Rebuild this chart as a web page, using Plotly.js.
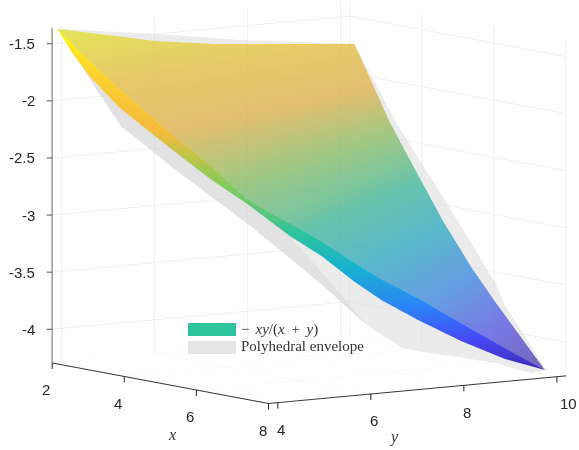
<!DOCTYPE html>
<html><head><meta charset="utf-8"><script src="https://cdn.plot.ly/plotly-3.0.1.min.js"></script>
<style>html,body{margin:0;padding:0;background:#fff}#g{width:579px;height:450px}</style></head><body><div id="g"></div>
<script>
// main face of the surface: first row = outer rim, second row = fold line
const rimX=[2.01,2.01,2.01,2.14,2.451,2.815,3.09,3.508,3.742,3.817,4.186,4.582,4.953,5.383,6.013,6.688,7.422];
const rimY=[3.9,5.996,7.275,10.19,10.19,10.19,10.19,10.19,10.19,10.19,10.19,10.19,10.19,10.19,10.19,10.19,10.19];
const rimZ=[-1.373,-1.558,-1.633,-1.734,-1.935,-2.167,-2.344,-2.57,-2.693,-2.733,-2.925,-3.134,-3.304,-3.499,-3.751,-4.003,-4.278];
const foldX=[2.01,2.42,2.89,3.72,4.54,5.45,6.27,7.29,7.98,7.98,7.98,7.98,7.98,7.98,7.98,7.98,7.98];
const foldY=[3.9,3.9,3.9,3.9,3.9,3.9,3.9,3.9,3.9,4.269,4.973,5.655,6.252,7.041,7.958,8.896,9.749];
const foldZ=[-1.373,-1.479,-1.599,-1.792,-1.969,-2.159,-2.318,-2.553,-2.641,-2.733,-2.925,-3.134,-3.304,-3.499,-3.751,-4.003,-4.227];
const edgeZ=[-1.373,-1.557,-1.729,-1.957,-2.117,-2.289,-2.439,-2.596,-2.719,-2.846,-3.055,-3.298,-3.486,-3.69,-3.907,-4.099,-4.227];
// polyhedral envelope outline
const envX=[2.01,2.667,3.41,3.77,4.79,6.99,7.8,7.8,7.8,7.8,7.8,7.8,7.7,7,6.5,6.2,5.2,3.5,2.14,2.01,2.01,2.01,5];
const envY=[3.93,4.2,4.2,4.2,4.2,4.2,4.425,5.128,6.066,6.834,8.838,9.606,9.998,10.16,10.06,10.08,10.06,10.04,10.19,7.85,6,4.44,6.8];
const envZ=[-1.373,-1.857,-2.16,-2.226,-2.426,-2.817,-3.063,-3.325,-3.708,-3.937,-4.143,-4.259,-4.255,-4.05,-3.772,-3.591,-3.111,-2.344,-1.734,-1.62,-1.497,-1.403,-2.8];
const fanI=[22,22,22,22,22,22,22,22,22,22,22,22,22,22,22,22,22,22,22,22,22,22];
const fanJ=[0,1,2,3,4,5,6,7,8,9,10,11,12,13,14,15,16,17,18,19,20,21];
const fanK=[1,2,3,4,5,6,7,8,9,10,11,12,13,14,15,16,17,18,19,20,21,0];
const bandX=[2.01,2.667,3.41,3.77,4.79,6.99,7.8,7.8,7.8,2.667,3.41,3.77,4.79,6.99,7.8,7.8];
const bandY=[3.93,4.2,4.2,4.2,4.2,4.2,4.425,5.128,6.066,4.2,4.2,4.2,4.2,4.2,4.425,5.128];
const bandZ=[-1.373,-1.857,-2.16,-2.226,-2.426,-2.817,-3.063,-3.325,-3.708,-1.753,-1.969,-2.035,-2.235,-2.626,-2.872,-3.221];
const bandI=[0,1,1,2,2,3,3,4,4,5,5,6,6,7];
const bandJ=[1,2,10,3,11,4,12,5,13,6,14,7,15,8];
const bandK=[9,10,9,11,10,12,11,13,12,14,13,15,14,15];
const parula=[[0,'#3e26a8'],[0.13,'#4748f5'],[0.25,'#2c86f7'],[0.38,'#17b1cf'],[0.5,'#2ec49e'],[0.63,'#8ccb5a'],[0.75,'#f4bb3c'],[0.88,'#fdd02f'],[1,'#f9fb15']];
const xTicks=[2,4,6,8];
const yTicks=[4,6,8,10];
const zTicks=[-4,-3.5,-3,-2.5,-2,-1.5];
const zText=['-4','-3.5','-3','-2.5','-2','-1.5'];
const xRange=[2,8], yRange=[3.8,10.2], zRange=[-4.295,-1.36];
const C=[-0.0392,-0.0794,-0.1022];
const k=2;
const e=[0.811,-0.571,0.132];
const ax=(r,tv)=>({title:{text:''},range:r,tickmode:'array',tickvals:tv,showticklabels:false,ticks:'',showgrid:true,gridcolor:'#e2e2e2',gridwidth:1,showline:true,linecolor:'#333',linewidth:2,zeroline:false,showbackground:false,showspikes:false});
const tickFont={family:'Liberation Sans',size:15,color:'#262626'};
const label=(x,y,z,text,xshift,yshift,xanchor,font)=>({x,y,z,text,xshift,yshift,xanchor:xanchor||'center',yanchor:'middle',showarrow:false,font:font||tickFont});
const mark=(x,y,z,ax,ay,c)=>({x,y,z,text:'\u00a0',font:{size:1},showarrow:true,ax,ay,arrowhead:0,arrowwidth:1,arrowcolor:c,standoff:0,startstandoff:0});
const titleFont={family:'Liberation Serif',size:16,color:'#333'};
const sceneNotes=[
...xTicks.map(t=>label(t,yRange[0],zRange[0],String(t),-6,-27)),
...yTicks.map(t=>label(xRange[1],t,zRange[0],String(t),t===10?12:3,-27)),
...zTicks.map((t,i)=>label(xRange[0],yRange[0],t,zText[i],-15,0,'right')),
label(5,yRange[0],zRange[0],'<i>x</i>',12,-51,'center',titleFont),
label(xRange[1],7,zRange[0],'<i>y</i>',-23,-47,'center',titleFont),
...xTicks.map(t=>mark(t,yRange[0],zRange[0],0,8,'#222')),
...yTicks.map(t=>mark(xRange[1],t,zRange[0],0,8,'#222')),
...zTicks.map(t=>mark(xRange[0],yRange[0],t,-7,0,'#555'))];
const swatch=(y0,y1,c)=>({type:'rect',xref:'paper',yref:'paper',layer:'above',x0:188/579,x1:236/579,y0:1-y1/450,y1:1-y0/450,fillcolor:c,line:{width:0}});
const legFont={family:'Liberation Serif',size:15,color:'#333'};
const note=(y,t)=>({xref:'paper',yref:'paper',x:239/579,y:1-y/450,xanchor:'left',yanchor:'middle',showarrow:false,text:t,font:legFont});
const layout={width:579,height:450,margin:{l:0,r:0,t:0,b:0},paper_bgcolor:'#fff',showlegend:false,
scene:{domain:{x:[0,1],y:[0,1]},aspectmode:'manual',aspectratio:{x:1.67,y:1.618,z:1.503},
camera:{projection:{type:'orthographic'},up:{x:0,y:0,z:1},center:{x:C[0],y:C[1],z:C[2]},eye:{x:C[0]+k*e[0],y:C[1]+k*e[1],z:C[2]+k*e[2]}},
xaxis:ax(xRange,xTicks),yaxis:ax(yRange,yTicks),
zaxis:Object.assign(ax(zRange,zTicks),{linecolor:'#999',linewidth:3}),
annotations:sceneNotes},
shapes:[swatch(323,336,'#2ec49e'),swatch(341,354,'#e4e4e4')],
annotations:[note(329,'−\u2009\u2009<i>xy</i>/(<i>x</i>\u2009 + \u2009<i>y</i>)'),note(346,'Polyhedral envelope')]};
const flat={ambient:1,diffuse:0,specular:0,fresnel:0};
const noHi={x:{highlight:false},y:{highlight:false},z:{highlight:false}};
const data=[
{type:'mesh3d',x:envX,y:envY,z:envZ,i:fanI,j:fanJ,k:fanK,color:'#d9d9d9',opacity:0.5,flatshading:true,lighting:flat,hoverinfo:'skip'},
{type:'mesh3d',x:bandX,y:bandY,z:bandZ,i:bandI,j:bandJ,k:bandK,color:'#cacaca',opacity:0.3,flatshading:true,lighting:flat,hoverinfo:'skip'},
{type:'surface',x:[rimX,foldX],y:[rimY,foldY],z:[rimZ,foldZ],colorscale:parula,cmin:-4.295,cmax:-1.36,opacity:0.68,showscale:false,lighting:{ambient:0.9,diffuse:0,specular:0,fresnel:0},contours:noHi,hoverinfo:'skip'},
{type:'surface',x:[foldX,foldX],y:[foldY,foldY],z:[foldZ,edgeZ],colorscale:parula,cmin:-4.295,cmax:-1.36,opacity:1,showscale:false,lighting:flat,contours:noHi,hoverinfo:'skip'}];
Plotly.newPlot('g',data,layout,{displayModeBar:false});
</script></body></html>
